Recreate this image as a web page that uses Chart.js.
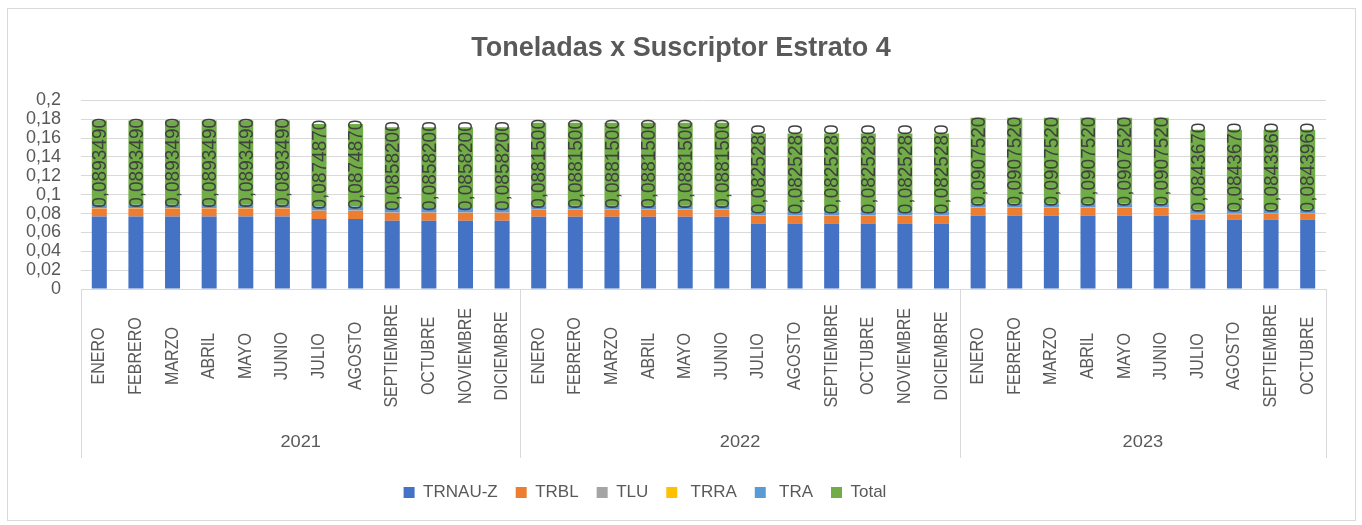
<!DOCTYPE html>
<html>
<head>
<meta charset="utf-8">
<script src="https://cdn.jsdelivr.net/npm/chart.js@4"></script>
<style>
  html, body { margin: 0; padding: 0; background: #fff; }
  #wrap { position: relative; width: 1362px; height: 525px; }
</style>
</head>
<body>
<div id="wrap"><canvas id="c"></canvas></div>
<script>
// Category labels (month + year group)
const MONTHS = [
  'ENERO', 'FEBRERO', 'MARZO', 'ABRIL', 'MAYO', 'JUNIO', 'JULIO', 'AGOSTO', 'SEPTIEMBRE', 'OCTUBRE', 'NOVIEMBRE', 'DICIEMBRE',
  'ENERO', 'FEBRERO', 'MARZO', 'ABRIL', 'MAYO', 'JUNIO', 'JULIO', 'AGOSTO', 'SEPTIEMBRE', 'OCTUBRE', 'NOVIEMBRE', 'DICIEMBRE',
  'ENERO', 'FEBRERO', 'MARZO', 'ABRIL', 'MAYO', 'JUNIO', 'JULIO', 'AGOSTO', 'SEPTIEMBRE', 'OCTUBRE',
];
const YEARS = ['2021', '2022', '2023'];
const YEAR_COUNTS = [12, 12, 10];

// Series values
const TRNAU_Z = [
  0.0769, 0.0769, 0.0769, 0.0769, 0.0769, 0.0769, 0.0741, 0.0741, 0.0723, 0.0723, 0.0723, 0.0723,
  0.0765, 0.0765, 0.0765, 0.0765, 0.0765, 0.0765, 0.0695, 0.0695, 0.0695, 0.0695, 0.0695, 0.0695,
  0.0776, 0.0776, 0.0776, 0.0776, 0.0776, 0.0776, 0.0737, 0.0737, 0.0737, 0.0737,
];
const TRBL = [
  0.0085, 0.0085, 0.0085, 0.0085, 0.0085, 0.0085, 0.0088, 0.0088, 0.0085, 0.0085, 0.0085, 0.0085,
  0.0078, 0.0078, 0.0078, 0.0078, 0.0078, 0.0078, 0.0085, 0.0085, 0.0085, 0.0085, 0.0085, 0.0085,
  0.0089, 0.0089, 0.0089, 0.0089, 0.0089, 0.0089, 0.0056, 0.0056, 0.0064, 0.0064,
];
const TLU = [
  0.0003, 0.0003, 0.0003, 0.0003, 0.0003, 0.0003, 0.0003, 0.0003, 0.0003, 0.0003, 0.0003, 0.0003,
  0.0003, 0.0003, 0.0003, 0.0003, 0.0003, 0.0003, 0.0003, 0.0003, 0.0003, 0.0003, 0.0003, 0.0003,
  0.0003, 0.0003, 0.0003, 0.0003, 0.0003, 0.0003, 0.0003, 0.0003, 0.0003, 0.0003,
];
const TRRA = [
  0.0001, 0.0001, 0.0001, 0.0001, 0.0001, 0.0001, 0.0001, 0.0001, 0.0001, 0.0001, 0.0001, 0.0001,
  0.0001, 0.0001, 0.0001, 0.0001, 0.0001, 0.0001, 0.0001, 0.0001, 0.0001, 0.0001, 0.0001, 0.0001,
  0.0001, 0.0001, 0.0001, 0.0001, 0.0001, 0.0001, 0.0001, 0.0001, 0.0001, 0.0001,
];
const TRA = [
  0.0035, 0.0035, 0.0035, 0.0035, 0.0035, 0.0035, 0.0042, 0.0042, 0.0046, 0.0046, 0.0046, 0.0046,
  0.0035, 0.0035, 0.0035, 0.0035, 0.0035, 0.0035, 0.0041, 0.0041, 0.0041, 0.0041, 0.0041, 0.0041,
  0.0039, 0.0039, 0.0039, 0.0039, 0.0039, 0.0039, 0.0047, 0.0047, 0.0039, 0.0039,
];
const TOTAL = [
  0.089349, 0.089349, 0.089349, 0.089349, 0.089349, 0.089349, 0.087487, 0.087487, 0.085820, 0.085820, 0.085820, 0.085820,
  0.088150, 0.088150, 0.088150, 0.088150, 0.088150, 0.088150, 0.082528, 0.082528, 0.082528, 0.082528, 0.082528, 0.082528,
  0.090752, 0.090752, 0.090752, 0.090752, 0.090752, 0.090752, 0.084367, 0.084367, 0.084396, 0.084396,
];

const Y_TICKS = { min: 0, max: 0.2, step: 0.02 };

const FONT = "'Liberation Sans', Arial, sans-serif";
const TXT = '#595959';
const GRID = '#d9d9d9';
const STRETCH = 1.14; // reference text is a bit wider than tall

const fmtComma = (v, d) => String(Number(v.toFixed(d))).replace('.', ',');

function ds(label, data, color) {
  return { label, data, backgroundColor: color, borderWidth: 0, stack: 's', yAxisID: 'y' };
}

// outer border + multi-level category axis
const frame = {
  id: 'frame',
  afterLayout(chart) {
    // legend sits a little left of the page centre in the reference
    chart.legend.left -= 36;
    chart.legend.right -= 36;
  },
  beforeDraw(chart) {
    const { ctx } = chart;
    ctx.save();
    ctx.fillStyle = '#fff';
    ctx.fillRect(0, 0, chart.width, chart.height);
    ctx.strokeStyle = GRID;
    ctx.lineWidth = 1;
    ctx.strokeRect(7.5, 8.5, 1348, 512);
    ctx.restore();
  },
  afterDraw(chart) {
    const { ctx, chartArea } = chart;
    const x = chart.scales.x;
    const b = chartArea.bottom;
    const h = 169;
    const step = x.getPixelForValue(1) - x.getPixelForValue(0);
    ctx.save();
    ctx.strokeStyle = GRID;
    ctx.lineWidth = 1;
    // group separators
    let idx = 0;
    const edges = [x.getPixelForValue(0) - step / 2];
    YEAR_COUNTS.forEach(n => { idx += n; edges.push(x.getPixelForValue(idx - 1) + step / 2); });
    edges.forEach(px => {
      const xx = Math.round(px) + 0.5;
      ctx.beginPath();
      ctx.moveTo(xx, b);
      ctx.lineTo(xx, b + h);
      ctx.stroke();
    });
    // month labels
    ctx.fillStyle = TXT;
    ctx.font = '16px ' + FONT;
    ctx.textAlign = 'center';
    ctx.textBaseline = 'middle';
    MONTHS.forEach((m, i) => {
      ctx.save();
      ctx.translate(x.getPixelForValue(i), b + 67);
      ctx.rotate(-Math.PI / 2);
      ctx.scale(1, STRETCH);
      ctx.fillText(m, 0, 0);
      ctx.restore();
    });
    // year labels
    YEARS.forEach((y, i) => {
      ctx.save();
      ctx.translate((edges[i] + edges[i + 1]) / 2, b + 154);
      ctx.scale(STRETCH, 1);
      ctx.fillText(y, 0, 0);
      ctx.restore();
    });
    ctx.restore();
  },
};

// value labels on the Total segment (inside base, rotated)
const totalLabels = {
  id: 'totalLabels',
  afterDatasetsDraw(chart) {
    const { ctx } = chart;
    const meta = chart.getDatasetMeta(5);
    ctx.save();
    ctx.fillStyle = '#404040';
    ctx.font = '19px ' + FONT;
    ctx.textAlign = 'left';
    ctx.textBaseline = 'middle';
    meta.data.forEach((bar, i) => {
      ctx.save();
      ctx.translate(bar.x, bar.base + 3);
      ctx.rotate(-Math.PI / 2);
      ctx.scale(1, 1.08);
      ctx.fillText(TOTAL[i].toFixed(7).replace('.', ','), 0, 1);
      ctx.restore();
    });
    ctx.restore();
  },
};

new Chart(document.getElementById('c'), {
  type: 'bar',
  data: {
    labels: MONTHS,
    datasets: [
      ds('TRNAU-Z', TRNAU_Z, '#4472c4'),
      ds('TRBL', TRBL, '#ed7d31'),
      ds('TLU', TLU, '#a5a5a5'),
      ds(' TRRA', TRRA, '#ffc000'),
      ds(' TRA', TRA, '#5b9bd5'),
      ds('Total', TOTAL, '#70ad47'),
    ],
  },
  options: {
    responsive: true,
    maintainAspectRatio: false,
    animation: false,
    devicePixelRatio: 1,
    layout: { padding: { top: 10, left: 0, right: 0, bottom: 14 } },
    datasets: { bar: { barPercentage: 0.41, categoryPercentage: 1 } },
    plugins: {
      title: {
        display: true,
        text: 'Toneladas x Suscriptor Estrato 4',
        color: TXT,
        font: { family: FONT, size: 27, weight: 'bold' },
        padding: { top: 22, bottom: 36 },
      },
      legend: {
        position: 'bottom',
        labels: {
          color: TXT,
          font: { family: FONT, size: 17 },
          boxWidth: 11,
          boxHeight: 11,
          padding: 18,
        },
      },
      tooltip: { enabled: false },
    },
    scales: {
      x: {
        stacked: true,
        grid: { display: false },
        border: { display: true, color: GRID },
        ticks: { display: false },
        afterFit: s => { s.height = 177; },
      },
      y: {
        stacked: true,
        min: Y_TICKS.min,
        max: Y_TICKS.max,
        grid: { color: GRID, drawTicks: false },
        border: { display: false },
        ticks: {
          stepSize: Y_TICKS.step,
          autoSkip: false,
          padding: 20,
          color: TXT,
          font: { family: FONT, size: 18 },
          callback: v => fmtComma(v, 2),
        },
        afterFit: s => { s.width = 81; },
      },
      // empty right margin of the plot
      pad: {
        type: 'linear',
        position: 'right',
        grid: { display: false },
        border: { display: false },
        ticks: { display: false },
        afterFit: s => { s.width = 36; },
      },
    },
  },
  plugins: [frame, totalLabels],
});
</script>
</body>
</html>
